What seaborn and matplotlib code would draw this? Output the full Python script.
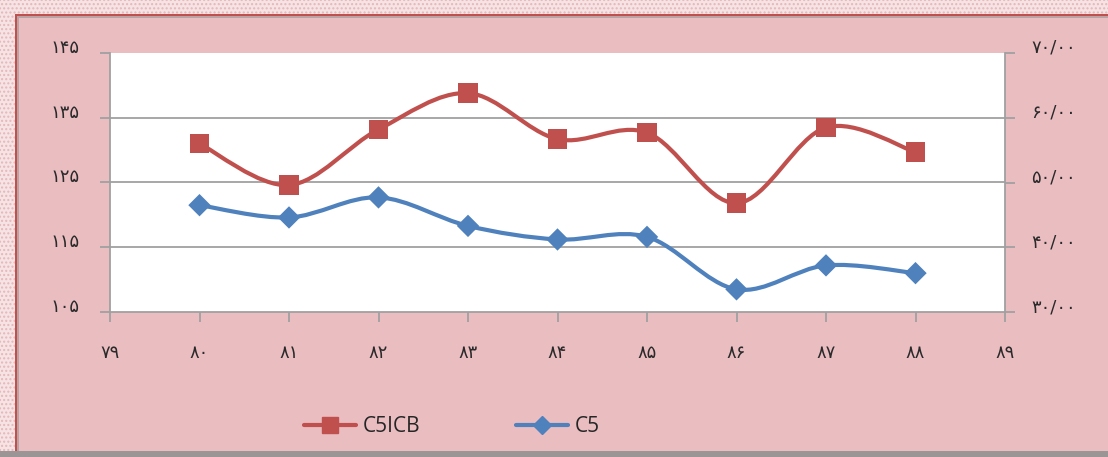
import seaborn as sns
import matplotlib.pyplot as plt
import pandas as pd
import numpy as np
from matplotlib.path import Path
from matplotlib.patches import PathPatch, Rectangle
from matplotlib.lines import Line2D
from matplotlib.transforms import ScaledTranslation

years = [80, 81, 82, 83, 84, 85, 86, 87, 88]
c5icb = [131.0, 124.6, 133.2, 138.8, 131.7, 132.7, 121.8, 133.5, 129.7]   # left axis
c5 = [46.5, 44.6, 47.7, 43.3, 41.2, 41.6, 33.5, 37.2, 36.0]               # right axis

x_ticks = [79, 80, 81, 82, 83, 84, 85, 86, 87, 88, 89]
x_labels = ['۷۹', '۸۰', '۸۱', '۸۲', '۸۳', '۸۴', '۸۵', '۸۶', '۸۷', '۸۸', '۸۹']
left_ticks = [105, 115, 125, 135, 145]
left_labels = ['۱۰۵', '۱۱۵', '۱۲۵', '۱۳۵', '۱۴۵']
right_ticks = [30, 40, 50, 60, 70]
right_labels = ['۳۰/۰۰', '۴۰/۰۰', '۵۰/۰۰', '۶۰/۰۰', '۷۰/۰۰']

df = pd.DataFrame({'year': years, 'C5ICB': c5icb, 'C5': c5})

RED = '#C0504D'
BLUE = '#4F81BD'
PINK = '#EABDC1'
GREY = '#A0A0A0'

sns.set_style('white')
plt.rcParams['font.family'] = ['DejaVu Sans']

W, H = 1108, 457
fig = plt.figure(figsize=(W / 100, H / 100), dpi=100)
fig.patch.set_facecolor('white')

# frame: dotted border strip, red line, pink panel, grey bottom line
def px_rect(x0, y0, x1, y1, **kw):
    fig.patches.append(Rectangle((x0 / W, 1 - y1 / H), (x1 - x0) / W, (y1 - y0) / H,
                                 transform=fig.transFigure, zorder=-5, **kw))

px_rect(0, 0, W, H, facecolor='#F6E4E5', edgecolor='#E7B5B9', hatch='....', lw=0)
px_rect(15, 14, W, H, facecolor=RED, lw=0)
px_rect(17, 16, W, H, facecolor='#B9A3A5', lw=0)
px_rect(19, 18, W, 451, facecolor=PINK, lw=0)
px_rect(0, 451, W, H, facecolor='#9C9596', lw=0)

ax = fig.add_axes([110 / W, 1 - 312 / H, (1005 - 110) / W, (312 - 53) / H])
ax.set_facecolor('white')
ax2 = ax.twinx()


def smooth_curve(axis, xs, ys, color):
    # Excel-style smoothed line: cubic Bezier through every point
    pts = np.column_stack([xs, ys]).astype(float)
    n = len(pts)
    verts = [pts[0]]
    codes = [Path.MOVETO]
    for i in range(n - 1):
        p0 = pts[max(i - 1, 0)]
        p1 = pts[i]
        p2 = pts[i + 1]
        p3 = pts[min(i + 2, n - 1)]
        c1 = p1 + (p2 - p0) / 6
        c2 = p2 - (p3 - p1) / 6
        verts += [c1, c2, p2]
        codes += [Path.CURVE4] * 3
    axis.add_patch(PathPatch(Path(verts, codes), facecolor='none', edgecolor=color,
                             lw=3, capstyle='round', joinstyle='round', zorder=3))


smooth_curve(ax, df['year'], df['C5ICB'], RED)
smooth_curve(ax2, df['year'], df['C5'], BLUE)

sns.scatterplot(data=df, x='year', y='C5ICB', ax=ax, marker='s', s=200,
                color=RED, edgecolor='none', zorder=4, legend=False)
sns.scatterplot(data=df, x='year', y='C5', ax=ax2, marker='D', s=130,
                color=BLUE, edgecolor='none', zorder=4, legend=False)

ax.set_xlim(79, 89)
ax.set_ylim(105, 145)
ax2.set_ylim(30, 70)

ax.set_xticks(x_ticks)
ax.set_xticklabels(x_labels)
ax.set_yticks(left_ticks)
ax.set_yticklabels(left_labels)
ax2.set_yticks(right_ticks)
ax2.set_yticklabels(right_labels)

for y in left_ticks[1:-1]:
    ax.axhline(y, color=GREY, lw=1.3, zorder=1)

for a in (ax, ax2):
    a.set_xlabel('')
    a.set_ylabel('')
    for side in a.spines:
        a.spines[side].set_visible(False)
ax.spines['left'].set_visible(True)
ax.spines['bottom'].set_visible(True)
ax2.spines['right'].set_visible(True)
for sp in (ax.spines['left'], ax.spines['bottom'], ax2.spines['right']):
    sp.set_color(GREY)
    sp.set_linewidth(1.3)

ax.tick_params(axis='x', bottom=True, direction='out', length=7, width=1.3, color=GREY,
               labelsize=13, labelcolor='#2a2a2a', pad=16)
ax.tick_params(axis='y', left=True, direction='out', length=7, width=1.3, color=GREY,
               labelsize=13, labelcolor='#2a2a2a', pad=15)
ax2.tick_params(axis='y', right=True, direction='out', length=7, width=1.3, color=GREY,
                labelsize=13, labelcolor='#2a2a2a', pad=12)

# labels sit a little above their ticks, as in the original
up = ScaledTranslation(0, 7 / 100, fig.dpi_scale_trans)
for lab in ax.get_yticklabels() + ax2.get_yticklabels():
    lab.set_transform(lab.get_transform() + up)

handles = [Line2D([], [], color=RED, lw=3, marker='s', markersize=11),
           Line2D([], [], color=BLUE, lw=3, marker='D', markersize=9)]
fig.legend(handles, ['C5ICB', 'C5'], loc='center', bbox_to_anchor=(452 / W, 1 - 427 / H),
           ncol=2, frameon=False, handlelength=2.5, columnspacing=4.6,
           handletextpad=0.3, prop={'family': 'Open Sans', 'size': 15})

fig.savefig('out.png', dpi=100, facecolor=fig.get_facecolor())
